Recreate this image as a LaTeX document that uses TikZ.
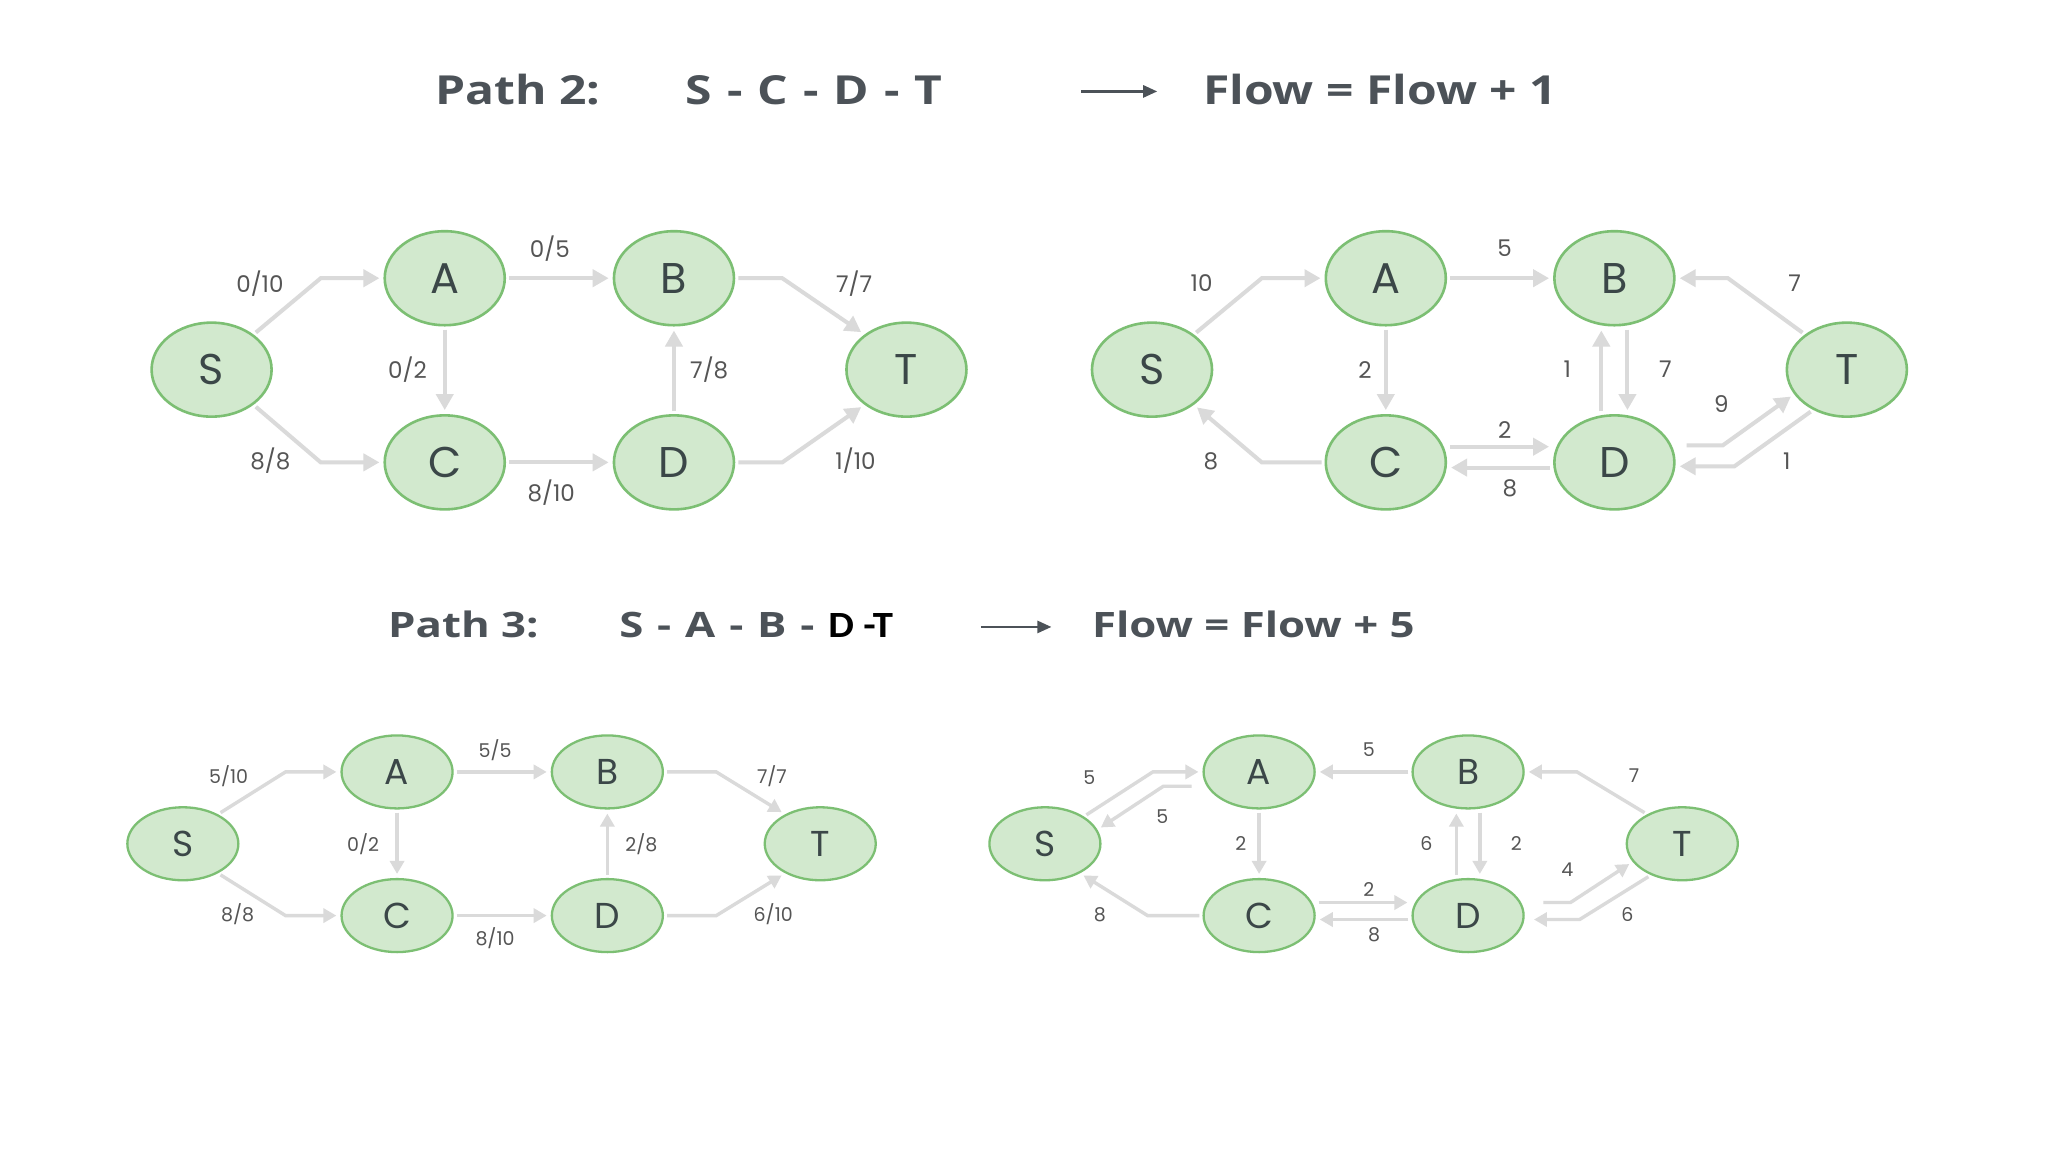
\documentclass[tikz,border=0pt]{standalone}
\usepackage{fontspec}
\setmainfont{Open Sans}
\newfontfamily\titlefont[FakeStretch=1.2]{Open Sans}
\newfontfamily\stitlefont[FakeStretch=1.25]{Open Sans}
\newfontfamily\blkfont[FakeStretch=1.1]{Carlito}
\newfontfamily\vtxfont{Poppins}
\usetikzlibrary{shapes.geometric,arrows.meta,calc}
\definecolor{nodefill}{HTML}{D2E9CE}
\definecolor{nodeborder}{HTML}{7CBF73}
\definecolor{edgegray}{HTML}{DADADA}
\definecolor{lettercol}{HTML}{3B4748}
\definecolor{labelcol}{HTML}{555555}
\definecolor{titlecol}{HTML}{4C5258}
\newcommand{\hy}{\ \hskip2.5pt-\hskip2.5pt\ }
\begin{document}
\begin{tikzpicture}[x=1.306pt,y=-1.306pt,
  vtx/.style={ellipse, draw=nodeborder, line width=2.6pt, fill=nodefill, minimum width=120pt, minimum height=94pt, inner sep=0pt, text=lettercol, font=\vtxfont\fontsize{43}{43}\selectfont},
  svtx/.style={vtx, line width=2.3pt, minimum width=111pt, minimum height=73pt, font=\vtxfont\fontsize{36}{36}\selectfont},
  edge/.style={draw=edgegray, line width=4pt, -{Triangle[length=16pt,width=17pt]}, shorten >=4pt, shorten <=3pt},
  sedge/.style={edge, line width=3.4pt, -{Triangle[length=13pt,width=14pt]}},
  lbl/.style={inner sep=0pt, text=labelcol, font=\vtxfont\fontsize{23}{23}\selectfont},
  slbl/.style={lbl, font=\vtxfont\fontsize{19}{19}\selectfont},
  ttl/.style={inner sep=0pt, anchor=base west, text=titlecol, font=\titlefont\bfseries\fontsize{40}{40}\selectfont},
  sttl/.style={ttl, font=\stitlefont\bfseries\fontsize{35}{35}\selectfont},
  tarrow/.style={draw=titlecol, line width=2.6pt, -{Triangle[length=14pt,width=12pt]}}
]
\useasboundingbox[fill=white] (0,0) rectangle (1568,882);

% ---------- titles ----------
\node[ttl] (t2a) at (333,80) {Path 2:};
\node[ttl] (t2b) at (525,80) {S\hy C\hy D\hy T};
\coordinate (t2s) at (828,70);
\coordinate (t2e) at (886,70);
\draw[tarrow] (t2s) -- (t2e);
\node[ttl] (t2c) at (921,80) {Flow = Flow + 1};

\node[sttl] (t3a) at (297,488) {Path 3:};
\node[sttl] (t3b) at (474,488) {S\hy A\hy B\hy{\color{black}\blkfont\bfseries\fontsize{37}{37}\selectfont D -T}};
\coordinate (t3s) at (751,480);
\coordinate (t3e) at (805,480);
\draw[tarrow] (t3s) -- (t3e);
\node[sttl] (t3c) at (836,488) {Flow = Flow + 5};

% ---------- top-left graph ----------
\node[vtx] (pS) at (162,283) {S};
\node[vtx] (pA) at (340.5,213) {A};
\node[vtx] (pB) at (516,213) {B};
\node[vtx] (pC) at (340.5,354) {C};
\node[vtx] (pD) at (516,354) {D};
\node[vtx] (pT) at (694,283) {T};
\draw[edge] (pS.40) -- ($(pA.west)+(-48,0)$) -- (pA.west);
\draw[edge] (pS.-40) -- ($(pC.west)+(-48,0)$) -- (pC.west);
\draw[edge] (pA.east) -- (pB.west);
\draw[edge] (pA.south) -- (pC.north);
\draw[edge] (pC.east) -- (pD.west);
\draw[edge] (pD.north) -- (pB.south);
\draw[edge] (pB.east) -- ($(pB.east)+(36,0)$) -- (pT.140);
\draw[edge] (pD.east) -- ($(pD.east)+(36,0)$) -- (pT.220);
\node[lbl] (pl1) at (199,217) {0/10};
\node[lbl] (pl2) at (421,190) {0/5};
\node[lbl] (pl3) at (654,217) {7/7};
\node[lbl] (pl4) at (312,283) {0/2};
\node[lbl] (pl5) at (543,283) {7/8};
\node[lbl] (pl6) at (207,353) {8/8};
\node[lbl] (pl7) at (422,377) {8/10};
\node[lbl] (pl8) at (655,353) {1/10};

% ---------- top-right graph ----------
\node[vtx] (qS) at (882,283) {S};
\node[vtx] (qA) at (1061,213) {A};
\node[vtx] (qB) at (1236,213) {B};
\node[vtx] (qC) at (1061,354) {C};
\node[vtx] (qD) at (1236,354) {D};
\node[vtx] (qT) at (1414,283) {T};
\draw[edge] (qS.40) -- ($(qA.west)+(-48,0)$) -- (qA.west);
\draw[edge] (qA.east) -- (qB.west);
\draw[edge] (qT.140) -- ($(qB.east)+(40,0)$) -- (qB.east);
\draw[edge] (qA.south) -- (qC.north);
\draw[edge] ($(qD.north)+(-10,0)$) -- ($(qB.south)+(-10,0)$);
\draw[edge] ($(qB.south)+(10,0)$) -- ($(qD.north)+(10,0)$);
\draw[edge] ($(qC.east)+(0,-12)$) -- ($(qD.west)+(0,-12)$);
\draw[edge] ($(qD.west)+(0,4)$) -- ($(qC.east)+(0,4)$);
\draw[edge] (qC.west) -- ($(qC.west)+(-48,0)$) -- (qS.-40);
\draw[edge] ($(qD.east)+(6,-13)$) -- ($(qD.east)+(36,-13)$) -- (qT.205);
\draw[edge] (qT.230) -- ($(qD.east)+(45,3)$) -- ($(qD.east)+(0,3)$);
\node[lbl] (ql1) at (920,217) {10};
\node[lbl] (ql2) at (1152,190) {5};
\node[lbl] (ql3) at (1374,217) {7};
\node[lbl] (ql4) at (1045,283) {2};
\node[lbl] (ql5) at (1200,283) {1};
\node[lbl] (ql6) at (1275,283) {7};
\node[lbl] (ql7) at (1318,309) {9};
\node[lbl] (ql8) at (1152,329) {2};
\node[lbl] (ql9) at (927,353) {8};
\node[lbl] (ql10) at (1156,374) {8};
\node[lbl] (ql11) at (1368,353) {1};

% ---------- bottom-left graph ----------
\node[svtx] (rS) at (140,646) {S};
\node[svtx] (rA) at (304,591) {A};
\node[svtx] (rB) at (465,591) {B};
\node[svtx] (rC) at (304,701) {C};
\node[svtx] (rD) at (465,701) {D};
\node[svtx] (rT) at (628,646) {T};
\draw[sedge] (rS.40) -- ($(rA.west)+(-42,0)$) -- (rA.west);
\draw[sedge] (rS.-40) -- ($(rC.west)+(-42,0)$) -- (rC.west);
\draw[sedge] (rA.east) -- (rB.west);
\draw[sedge] (rA.south) -- (rC.north);
\draw[sedge] (rC.east) -- (rD.west);
\draw[sedge] (rD.north) -- (rB.south);
\draw[sedge] (rB.east) -- ($(rB.east)+(40,0)$) -- (rT.140);
\draw[sedge] (rD.east) -- ($(rD.east)+(40,0)$) -- (rT.220);
\node[slbl] (rl1) at (175,594) {5/10};
\node[slbl] (rl2) at (379,574) {5/5};
\node[slbl] (rl3) at (591,594) {7/7};
\node[slbl] (rl4) at (278,646) {0/2};
\node[slbl] (rl5) at (491,646) {2/8};
\node[slbl] (rl6) at (182,700) {8/8};
\node[slbl] (rl7) at (379,718) {8/10};
\node[slbl] (rl8) at (592,700) {6/10};

% ---------- bottom-right graph ----------
\node[svtx] (uS) at (800,646) {S};
\node[svtx] (uA) at (964,591) {A};
\node[svtx] (uB) at (1124,591) {B};
\node[svtx] (uC) at (964,701) {C};
\node[svtx] (uD) at (1124,701) {D};
\node[svtx] (uT) at (1288,646) {T};
\draw[sedge] (uS.35) -- ($(uA.west)+(-38,0)$) -- (uA.west);
\draw[sedge] ($(uA.west)+(-6,11)$) -- ($(uA.west)+(-30,11)$) -- (uS.15);
\draw[sedge] (uB.west) -- (uA.east);
\draw[sedge] (uT.140) -- ($(uB.east)+(40,0)$) -- (uB.east);
\draw[sedge] (uA.south) -- (uC.north);
\draw[sedge] ($(uD.north)+(-9,0)$) -- ($(uB.south)+(-9,0)$);
\draw[sedge] ($(uB.south)+(9,0)$) -- ($(uD.north)+(9,0)$);
\draw[sedge] ($(uC.east)+(0,-10)$) -- ($(uD.west)+(0,-10)$);
\draw[sedge] ($(uD.west)+(0,3)$) -- ($(uC.east)+(0,3)$);
\draw[sedge] (uC.west) -- ($(uC.west)+(-42,0)$) -- (uS.-40);
\draw[sedge] ($(uD.east)+(12,-10)$) -- ($(uD.east)+(35,-10)$) -- (uT.200);
\draw[sedge] (uT.225) -- ($(uD.east)+(42,3)$) -- ($(uD.east)+(4,3)$);
\node[slbl] (ul1) at (834,595) {5};
\node[slbl] (ul2) at (890,625) {5};
\node[slbl] (ul3) at (1048,574) {5};
\node[slbl] (ul4) at (1251,594) {7};
\node[slbl] (ul5) at (950,646) {2};
\node[slbl] (ul6) at (1092,646) {6};
\node[slbl] (ul7) at (1161,646) {2};
\node[slbl] (ul8) at (1200,666) {4};
\node[slbl] (ul9) at (1048,681) {2};
\node[slbl] (ul10) at (842,700) {8};
\node[slbl] (ul11) at (1052,716) {8};
\node[slbl] (ul12) at (1246,700) {6};
\end{tikzpicture}
\end{document}
